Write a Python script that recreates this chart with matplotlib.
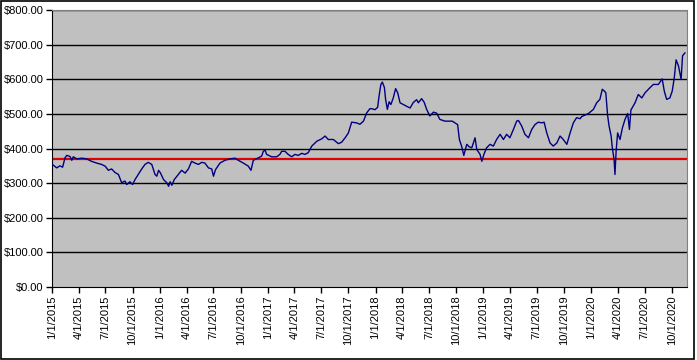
import matplotlib
matplotlib.use("Agg")
import matplotlib.pyplot as plt
import matplotlib.dates as mdates
import matplotlib.ticker as mticker
import pandas as pd

# values
dates = [
    "2015-01-02", "2015-01-17", "2015-01-28", "2015-02-06", "2015-02-14", "2015-02-20",
    "2015-03-03", "2015-03-09", "2015-03-14", "2015-03-26", "2015-04-12", "2015-04-28",
    "2015-05-15", "2015-06-01", "2015-06-18", "2015-06-30", "2015-07-11", "2015-07-22",
    "2015-08-02", "2015-08-14", "2015-08-25", "2015-09-05", "2015-09-11", "2015-09-22",
    "2015-10-01", "2015-10-09", "2015-10-20", "2015-11-01", "2015-11-12", "2015-11-23",
    "2015-12-05", "2015-12-16", "2015-12-22", "2015-12-28", "2016-01-03", "2016-01-14",
    "2016-01-25", "2016-01-31", "2016-02-05", "2016-02-11", "2016-02-19", "2016-03-04",
    "2016-03-15", "2016-03-27", "2016-04-07", "2016-04-18", "2016-04-29", "2016-05-11",
    "2016-05-22", "2016-06-02", "2016-06-14", "2016-06-25", "2016-07-01", "2016-07-08",
    "2016-07-23", "2016-08-09", "2016-08-26", "2016-09-12", "2016-09-23", "2016-10-10",
    "2016-10-27", "2016-11-05", "2016-11-13", "2016-11-30", "2016-12-11", "2016-12-17",
    "2016-12-23", "2016-12-28", "2017-01-14", "2017-01-31", "2017-02-11", "2017-02-17",
    "2017-02-28", "2017-03-11", "2017-03-23", "2017-04-03", "2017-04-14", "2017-04-26",
    "2017-05-07", "2017-05-18", "2017-05-30", "2017-06-16", "2017-07-03", "2017-07-14",
    "2017-07-25", "2017-08-11", "2017-08-28", "2017-09-08", "2017-09-20", "2017-10-01",
    "2017-10-12", "2017-10-29", "2017-11-09", "2017-11-21", "2017-12-02", "2017-12-13",
    "2017-12-19", "2017-12-30", "2018-01-08", "2018-01-13", "2018-01-19", "2018-01-24",
    "2018-01-31", "2018-02-04", "2018-02-10", "2018-02-16", "2018-02-22", "2018-03-02",
    "2018-03-10", "2018-03-17", "2018-03-25", "2018-04-05", "2018-04-16", "2018-04-28",
    "2018-05-09", "2018-05-20", "2018-05-26", "2018-06-06", "2018-06-15", "2018-06-23",
    "2018-07-04", "2018-07-16", "2018-07-27", "2018-08-07", "2018-08-24", "2018-09-05",
    "2018-09-18", "2018-09-27", "2018-10-06", "2018-10-12", "2018-10-20", "2018-10-27",
    "2018-11-06", "2018-11-14", "2018-11-23", "2018-12-04", "2018-12-10", "2018-12-21",
    "2018-12-27", "2019-01-03", "2019-01-12", "2019-01-24", "2019-02-04", "2019-02-15",
    "2019-02-27", "2019-03-10", "2019-03-21", "2019-04-01", "2019-04-13", "2019-04-24",
    "2019-04-30", "2019-05-11", "2019-05-22", "2019-06-03", "2019-06-14", "2019-06-25",
    "2019-07-06", "2019-07-18", "2019-07-26", "2019-08-04", "2019-08-15", "2019-08-26",
    "2019-09-07", "2019-09-18", "2019-09-29", "2019-10-11", "2019-10-22", "2019-11-02",
    "2019-11-13", "2019-11-25", "2019-11-30", "2019-12-23", "2020-01-09", "2020-01-20",
    "2020-01-31", "2020-02-08", "2020-02-15", "2020-02-20", "2020-02-26", "2020-03-02",
    "2020-03-09", "2020-03-13", "2020-03-19", "2020-03-22", "2020-03-26", "2020-03-31",
    "2020-04-08", "2020-04-16", "2020-04-25", "2020-05-04", "2020-05-10", "2020-05-15",
    "2020-05-29", "2020-06-09", "2020-06-21", "2020-07-02", "2020-07-19", "2020-07-30",
    "2020-08-16", "2020-08-29", "2020-09-05", "2020-09-13", "2020-09-24", "2020-10-02",
    "2020-10-09", "2020-10-15", "2020-10-23", "2020-11-01", "2020-11-06", "2020-11-14",
]
prices = [
    354, 344, 350, 346, 373, 380,
    377, 366, 376, 370, 372, 370,
    363, 358, 354, 349, 337, 341,
    331, 325, 301, 306, 296, 304,
    296, 310, 325, 341, 354, 360,
    354, 325, 320, 337, 330, 310,
    301, 291, 304, 294, 310, 325,
    337, 329, 341, 363, 358, 354,
    360, 358, 344, 341, 320, 339,
    358, 366, 370, 372, 366, 358,
    349, 337, 366, 373, 378, 392,
    395, 383, 376, 376, 383, 392,
    392, 383, 376, 383, 380, 386,
    383, 388, 407, 421, 428, 436,
    426, 426, 414, 418, 431, 445,
    476, 474, 470, 479, 503, 515,
    515, 512, 519, 552, 585, 592,
    576, 542, 513, 535, 527, 546,
    573, 561, 532, 527, 522, 517,
    533, 541, 532, 544, 533, 513,
    494, 505, 502, 484, 479, 479,
    479, 474, 469, 426, 405, 380,
    412, 405, 402, 431, 397, 383,
    363, 383, 402, 412, 407, 426,
    441, 426, 441, 431, 455, 479,
    481, 465, 441, 431, 455, 469,
    476, 474, 476, 445, 416, 407,
    416, 436, 426, 412, 445, 474,
    489, 486, 492, 501, 513, 532,
    542, 571, 566, 561, 496, 465,
    436, 402, 368, 325, 394, 445,
    426, 459, 484, 501, 455, 511,
    532, 556, 546, 561, 576, 585,
    585, 601, 566, 542, 546, 566,
    605, 656, 639, 600, 668, 676,
]
baseline = 370
y_ticks = [0, 100, 200, 300, 400, 500, 600, 700, 800]

df = pd.DataFrame({"date": pd.to_datetime(dates), "price": prices})

plt.rcParams["font.family"] = ["Liberation Sans", "DejaVu Sans"]

fig = plt.figure(figsize=(6.97, 3.6), dpi=100)
fig.set_facecolor("white")
ax = fig.add_axes((52 / 697, 1 - 287 / 360, 635 / 697, 277 / 360))
ax.set_facecolor("#C0C0C0")

for v in y_ticks[1:]:
    ax.axhline(v, color="black", lw=1, zorder=1)

ax.plot(df["date"], df["price"], color="#000080", lw=1, zorder=3)
ax.axhline(baseline, color="#E00000", lw=1.6, zorder=2)

ax.set_ylim(0, 800)
ax.set_xlim(pd.Timestamp("2015-01-01"), pd.Timestamp("2020-11-21"))
ax.set_yticks(y_ticks)
ax.yaxis.set_major_formatter(mticker.FuncFormatter(lambda v, p: f"${v:,.2f}"))

ax.xaxis.set_major_locator(mdates.MonthLocator(bymonth=[1, 4, 7, 10]))
ax.xaxis.set_major_formatter(mticker.FuncFormatter(
    lambda v, p: f"{mdates.num2date(v).month}/{mdates.num2date(v).day}/{mdates.num2date(v).year}"))
ax.tick_params(axis="x", rotation=90, labelsize=8, length=4, width=1, pad=2)
ax.tick_params(axis="y", labelsize=8, length=4, width=1, pad=2)

for side in ("top", "right"):
    ax.spines[side].set_color("#808080")
for side in ("left", "bottom"):
    ax.spines[side].set_color("black")

# outer border like the original picture
fig.patches.append(plt.Rectangle((0.001, 0.003), 0.995, 0.994, transform=fig.transFigure,
                                 fill=False, edgecolor="black", lw=1.2))

fig.savefig("out.png", dpi=100)
